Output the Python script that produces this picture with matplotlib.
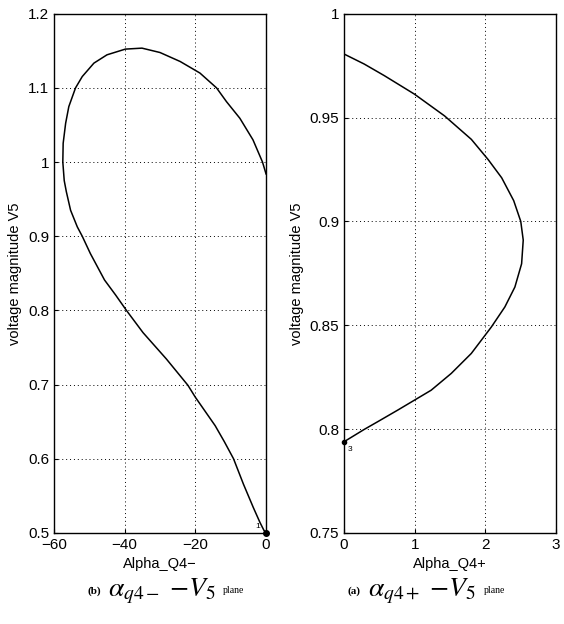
import matplotlib
matplotlib.use("Agg")
import matplotlib.pyplot as plt

plt.rcParams['font.family'] = ['Liberation Sans', 'DejaVu Sans']
plt.rcParams['mathtext.fontset'] = 'stix'

# left panel: alpha_q4- vs V5 (traced from the right edge, over the top, down to point 1)
alpha_neg = [0, -1.0, -3.7, -7.4, -11.2, -14.0, -18.7, -24.3, -30.0, -35.1, -39.8,
             -45.0, -48.7, -52.0, -53.9, -55.8, -56.7, -57.4, -57.5, -57.1, -56.5,
             -55.3, -53.4, -52.0, -49.7, -45.7, -42.6, -39.5, -34.8, -28.2,
             -22.1, -20.0, -14.4, -11.8, -9.2, -6.4, -3.6, -1.7, -0.6, 0]
v5_neg = [0.984, 1.0, 1.03, 1.059, 1.0815, 1.1, 1.12, 1.1356, 1.1477, 1.1536, 1.1523,
          1.1446, 1.1334, 1.1153, 1.1, 1.0748, 1.0523, 1.0253, 1.0, 0.975, 0.96,
          0.935, 0.9126, 0.9, 0.8766, 0.841, 0.821, 0.8, 0.770, 0.7345,
          0.699, 0.6829, 0.6446, 0.623, 0.6, 0.5658, 0.5342, 0.5139, 0.5035, 0.5]

# right panel: alpha_q4+ vs V5 (down to point 3)
alpha_pos = [0, 0.284, 0.569, 0.995, 1.422, 1.801, 2.038, 2.23, 2.40, 2.50, 2.535,
             2.512, 2.417, 2.275, 2.085, 1.80, 1.517, 1.232, 0.995, 0.758, 0.474,
             0.284, 0]
v5_pos = [0.9806, 0.9758, 0.9702, 0.9613, 0.9508, 0.9395, 0.9298, 0.921, 0.910, 0.900, 0.891,
          0.8796, 0.8684, 0.8588, 0.8492, 0.8364, 0.8268, 0.8187, 0.8139, 0.8091, 0.8035,
          0.7998, 0.7939]

fig = plt.figure(figsize=(5.64, 6.24), dpi=100)
ax1 = fig.add_axes([0.0957, 0.146, 0.376, 0.832])
ax2 = fig.add_axes([0.610, 0.146, 0.376, 0.832])

for ax in (ax1, ax2):
    ax.grid(True, linestyle=(0, (1, 3)), color='black', linewidth=0.7)
    ax.tick_params(direction='in', length=3, labelsize=11, width=0.8)
    for s in ax.spines.values():
        s.set_linewidth(1.0)
    ax.set_ylabel('voltage magnitude V5', fontsize=10.5)

ax1.plot(alpha_neg, v5_neg, color='black', linewidth=1.1)
ax1.plot(alpha_neg[-1], v5_neg[-1], 'o', color='black', markersize=4, clip_on=False)
ax1.text(alpha_neg[-1] - 1.6, v5_neg[-1] + 0.004, '1', fontsize=6, ha='right', va='bottom')
ax1.set_xlim(-60, 0)
ax1.set_ylim(0.5, 1.2)
ax1.set_xticks([-60, -40, -20, 0])
ax1.set_yticks([0.5, 0.6, 0.7, 0.8, 0.9, 1.0, 1.1, 1.2])
ax1.set_yticklabels(['0.5', '0.6', '0.7', '0.8', '0.9', '1', '1.1', '1.2'])
ax1.set_xlabel('Alpha_Q4\u2212', fontsize=10.5)

ax2.plot(alpha_pos, v5_pos, color='black', linewidth=1.1)
ax2.plot(alpha_pos[-1], v5_pos[-1], 'o', color='black', markersize=3, clip_on=False)
ax2.text(alpha_pos[-1] + 0.05, v5_pos[-1] - 0.002, '3', fontsize=6, ha='left', va='top')
ax2.set_xlim(0, 3)
ax2.set_ylim(0.75, 1.0)
ax2.set_xticks([0, 1, 2, 3])
ax2.set_yticks([0.75, 0.8, 0.85, 0.9, 0.95, 1.0])
ax2.set_yticklabels(['0.75', '0.8', '0.85', '0.9', '0.95', '1'])
ax2.set_xlabel('Alpha_Q4+', fontsize=10.5)

serif = ['Liberation Serif', 'DejaVu Serif']
base = 0.044
fig.text(0.155, base + 0.004, '(b)', fontsize=8, fontweight='bold', family=serif, ha='left', va='baseline')
fig.text(0.192, base, r'$\alpha_{q4-}\ {-}V_5$', fontsize=20, family=serif, ha='left', va='baseline')
fig.text(0.395, base + 0.006, 'plane', fontsize=7, family=serif, ha='left', va='baseline')

fig.text(0.617, base + 0.004, '(a)', fontsize=8, fontweight='bold', family=serif, ha='left', va='baseline')
fig.text(0.653, base, r'$\alpha_{q4+}\ {-}V_5$', fontsize=20, family=serif, ha='left', va='baseline')
fig.text(0.857, base + 0.006, 'plane', fontsize=7, family=serif, ha='left', va='baseline')

fig.savefig('out.png', dpi=100)
